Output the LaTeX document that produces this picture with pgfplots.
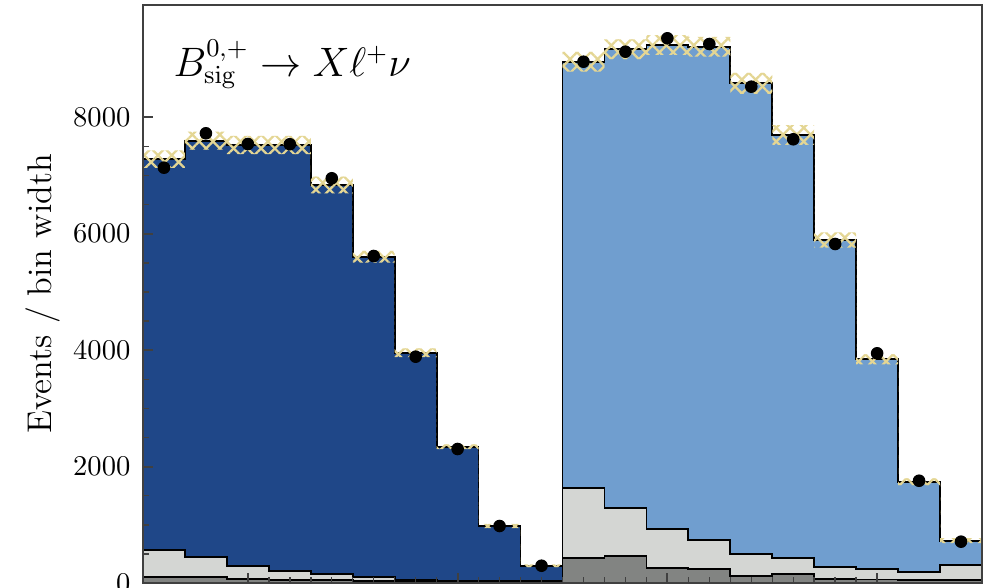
\documentclass[border=0pt]{standalone}
\usepackage{pgfplots}
\pgfplotsset{compat=1.18}
\usepackage{pgfplotstable}
\usepgfplotslibrary{fillbetween}
\usetikzlibrary{patterns.meta}

\definecolor{bzero}{RGB}{31,71,136}
\definecolor{bplus}{RGB}{112,158,207}
\definecolor{bkglight}{RGB}{212,214,211}
\definecolor{bkgdark}{RGB}{130,132,130}
\definecolor{unc}{RGB}{228,214,148}
\definecolor{frame}{RGB}{64,64,64}

% Bin-wise stack tops (tot = all components, lg = both backgrounds, dg = lower background),
% observed data and the total uncertainty of the prediction.
% The last row repeats the final bin to close the step outline.
\pgfplotstableread{
x  tot   lg    dg   data  err
0  7284  567   98   7135  150
1  7599  441   98   7726  155
2  7525  297   74   7542  155
3  7525  206   52   7538  155
4  6838  149   52   6953  143
5  5606  108   40   5618  100
6  3957  55    30   3888  75
7  2342  45    25   2302  40
8  979   40    20   979   35
9  297   35    15   297   25
10 297   35    15   nan   25
}\binszero

\pgfplotstableread{
x  tot   lg    dg   data  err
10 8956  1627  424  8956  170
11 9169  1283  464  9128  170
12 9243  922   253  9358  170
13 9214  739   235  9260  170
14 8585  493   120  8527  180
15 7697  424   155  7623  170
16 5893  280   70   5824  130
17 3843  240   60   3946  85
18 1740  194   55   1757  57
19 727   309   55   710   43
20 727   309   55   nan   43
}\binsplus

\begin{document}
\begin{tikzpicture}
\begin{axis}[
  scale only axis,
  width=293.65pt, height=202.3pt,
  xmin=0, xmax=20, ymin=0, ymax=9930,
  axis on top,
  fill between/on layer=main,
  axis line style={frame, line width=0.9pt},
  xtick={2.5,7.5,12.5,17.5}, xticklabels={},
  minor x tick num=9,
  ytick={0,2000,4000,6000,8000},
  minor y tick num=3,
  xtick pos=bottom, ytick pos=left,
  tick align=inside,
  major tick length=3.5pt, minor tick length=2pt,
  every tick/.style={frame, line width=0.7pt},
  every minor tick/.style={frame, line width=0.5pt},
  scaled y ticks=false,
  /pgf/number format/1000 sep={},
  yticklabel style={xshift=-0.9pt, font=\fontsize{10}{12}\selectfont},
  ylabel={Events / bin width},
  ylabel style={at={(axis description cs:-0.1187,0.5)}, anchor=center,
                font=\fontsize{12}{14}\selectfont},
]
  % neutral B sample
  \addplot[const plot mark left, fill=bzero, draw=black, line width=0.6pt]
    table[x=x, y=tot] {\binszero} \closedcycle;
  \addplot[const plot mark left, fill=bkglight, draw=black, line width=0.6pt]
    table[x=x, y=lg] {\binszero} \closedcycle;
  \addplot[const plot mark left, fill=bkgdark, draw=black, line width=0.6pt]
    table[x=x, y=dg] {\binszero} \closedcycle;

  % charged B sample
  \addplot[const plot mark left, fill=bplus, draw=black, line width=0.6pt]
    table[x=x, y=tot] {\binsplus} \closedcycle;
  \addplot[const plot mark left, fill=bkglight, draw=black, line width=0.6pt]
    table[x=x, y=lg] {\binsplus} \closedcycle;
  \addplot[const plot mark left, fill=bkgdark, draw=black, line width=0.6pt]
    table[x=x, y=dg] {\binsplus} \closedcycle;

  % uncertainty bands
  \addplot[const plot mark left, draw=none, name path=zu]
    table[x=x, y expr=\thisrow{tot}+\thisrow{err}] {\binszero};
  \addplot[const plot mark left, draw=none, name path=zl]
    table[x=x, y expr=\thisrow{tot}-\thisrow{err}] {\binszero};
  \addplot[const plot mark left, draw=none, name path=pu]
    table[x=x, y expr=\thisrow{tot}+\thisrow{err}] {\binsplus};
  \addplot[const plot mark left, draw=none, name path=pl]
    table[x=x, y expr=\thisrow{tot}-\thisrow{err}] {\binsplus};
  \addplot[draw=none, pattern={Lines[angle=45,distance=3.4pt,line width=0.8pt]},
    pattern color=unc] fill between[of=zu and zl];
  \addplot[draw=none, pattern={Lines[angle=-45,distance=3.4pt,line width=0.8pt]},
    pattern color=unc] fill between[of=zu and zl];
  \addplot[draw=none, pattern={Lines[angle=45,distance=3.4pt,line width=0.8pt]},
    pattern color=unc] fill between[of=pu and pl];
  \addplot[draw=none, pattern={Lines[angle=-45,distance=3.4pt,line width=0.8pt]},
    pattern color=unc] fill between[of=pu and pl];

  % data
  \addplot[only marks, mark=*, mark size=2pt, black]
    table[x expr=\thisrow{x}+0.5, y=data] {\binszero};
  \addplot[only marks, mark=*, mark size=2pt, black]
    table[x expr=\thisrow{x}+0.5, y=data] {\binsplus};

  \node[anchor=base west, inner sep=0pt, font=\fontsize{13.5}{16}\selectfont]
    at (axis description cs:0.0358,0.877) {$B^{0,+}_{\mathrm{sig}} \to X\ell^{+}\nu$};
\end{axis}
\pgfresetboundingbox
\path[use as bounding box]
  ([xshift=-50.05pt,yshift=-1.75pt]current axis.south west)
  rectangle ([xshift=1.75pt,yshift=1.75pt]current axis.north east);
\end{tikzpicture}
\end{document}
